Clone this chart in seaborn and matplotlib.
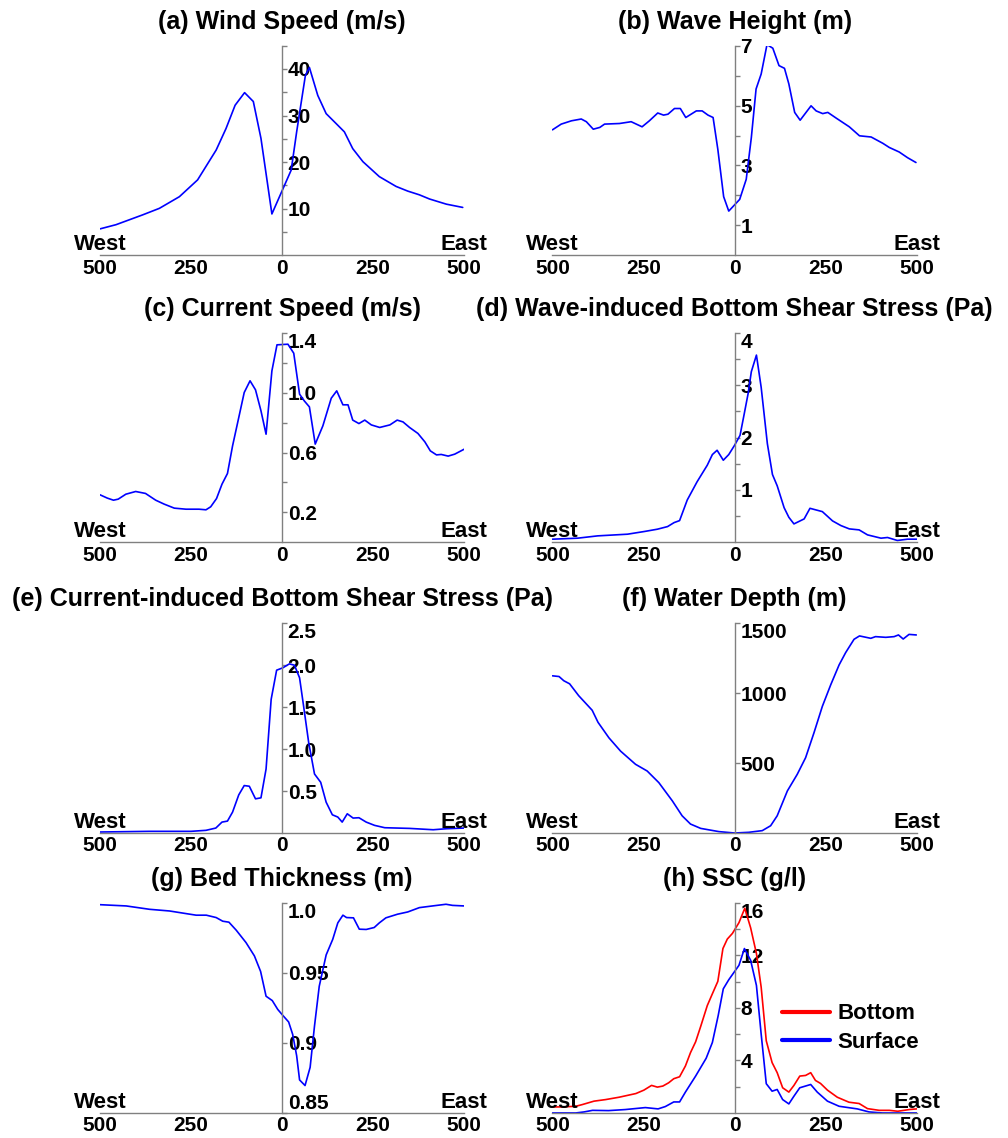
import pandas as pd
import matplotlib.pyplot as plt
import seaborn as sns

# ---- data (distance in km, West negative) ----
wind_x = [-500, -456, -383, -337, -282, -232, -181, -154, -129, -103, -79, -58, -28, 25, 40, 64, 75, 98,
          121, 148, 171, 194, 222, 267, 313, 345, 377, 405, 451, 496]
wind_y = [5.7, 6.6, 8.7, 10.1, 12.6, 16.2, 22.6, 27.2, 32.2, 34.9, 33.0, 25.1, 8.9, 18.3, 26.5, 38.6, 40.3, 34.3,
          30.4, 28.3, 26.5, 22.9, 20.1, 16.9, 14.8, 13.8, 13.0, 12.1, 11.0, 10.3]

wave_x = [-500, -476, -448, -421, -407, -388, -370, -357, -316, -284, -254, -234, -211, -195, -183, -165, -149,
          -134, -105, -89, -73, -59, -46, -30, -16, 14, 32, 46, 59, 73, 89, 105, 122, 137, 149, 165, 180, 210,
          224, 242, 256, 279, 315, 343, 375, 407, 425, 452, 475, 498]
wave_y = [4.19, 4.38, 4.49, 4.55, 4.46, 4.21, 4.27, 4.38, 4.40, 4.46, 4.29, 4.49, 4.75, 4.68, 4.71, 4.90, 4.90,
          4.60, 4.82, 4.82, 4.68, 4.60, 3.54, 1.96, 1.48, 1.87, 2.54, 3.93, 5.55, 6.05, 7.03, 6.91, 6.33, 6.24,
          5.72, 4.77, 4.51, 4.99, 4.82, 4.73, 4.77, 4.58, 4.29, 3.99, 3.95, 3.74, 3.60, 3.45, 3.26, 3.10]

curr_x = [-500, -480, -463, -450, -429, -402, -375, -347, -324, -296, -264, -228, -209, -196, -180, -165, -150,
          -136, -118, -104, -88, -73, -58, -44, -28, -14, 16, 32, 48, 61, 75, 91, 112, 135, 150, 167, 181, 194,
          211, 227, 245, 268, 296, 316, 332, 350, 373, 392, 407, 424, 437, 456, 474, 500]
curr_y = [0.318, 0.296, 0.282, 0.289, 0.322, 0.340, 0.327, 0.282, 0.256, 0.229, 0.222, 0.222, 0.218, 0.238,
          0.293, 0.389, 0.460, 0.644, 0.844, 1.000, 1.078, 1.018, 0.878, 0.722, 1.144, 1.318, 1.322, 1.262,
          0.989, 0.944, 0.904, 0.656, 0.778, 0.962, 1.011, 0.918, 0.918, 0.816, 0.793, 0.816, 0.784, 0.767,
          0.784, 0.816, 0.804, 0.767, 0.727, 0.671, 0.611, 0.584, 0.587, 0.576, 0.589, 0.622]

wbss_x = [-500, -431, -376, -294, -248, -212, -184, -166, -151, -130, -103, -75, -61, -48, -31, -16, 0, 15, 26,
          37, 46, 60, 73, 90, 104, 117, 136, 149, 163, 191, 207, 241, 269, 292, 315, 342, 365, 402, 420, 447,
          475, 500]
wbss_y = [0.063, 0.082, 0.126, 0.158, 0.209, 0.253, 0.303, 0.379, 0.417, 0.809, 1.156, 1.472, 1.675, 1.757,
          1.567, 1.675, 1.852, 2.041, 2.433, 2.831, 3.254, 3.570, 2.957, 1.883, 1.295, 1.080, 0.663, 0.480,
          0.354, 0.449, 0.651, 0.588, 0.411, 0.322, 0.259, 0.240, 0.145, 0.082, 0.095, 0.038, 0.063, 0.063]

cbss_x = [-500, -365, -250, -209, -182, -165, -150, -136, -119, -104, -90, -73, -58, -44, -30, -15, 2, 20, 34,
          48, 59, 73, 89, 106, 121, 138, 153, 165, 179, 195, 211, 231, 254, 282, 350, 415, 451, 500]
cbss_y = [0.012, 0.020, 0.020, 0.032, 0.059, 0.130, 0.142, 0.249, 0.454, 0.565, 0.557, 0.407, 0.419, 0.762,
          1.592, 1.939, 1.967, 2.014, 1.998, 1.848, 1.513, 1.078, 0.703, 0.604, 0.367, 0.217, 0.190, 0.130,
          0.229, 0.178, 0.182, 0.130, 0.091, 0.063, 0.055, 0.039, 0.051, 0.059]

depth_x = [-500, -482, -469, -453, -428, -391, -375, -345, -313, -272, -240, -208, -171, -144, -121, -93, -43,
           0, 39, 76, 99, 117, 145, 172, 195, 218, 241, 264, 287, 305, 328, 343, 374, 387, 415, 438, 450, 463,
           479, 499]
depth_y = [1123, 1118, 1088, 1066, 981, 877, 791, 680, 585, 491, 443, 360, 230, 123, 64, 33, 10, 0, 5, 17, 52,
           123, 301, 419, 538, 716, 905, 1059, 1201, 1289, 1384, 1408, 1391, 1403, 1398, 1403, 1415, 1386, 1419,
           1415]

bed_x = [-500, -428, -364, -309, -263, -236, -208, -181, -163, -146, -126, -99, -76, -59, -44, -27, -12, 2, 18,
         29, 40, 48, 63, 77, 89, 102, 121, 139, 153, 167, 177, 196, 212, 231, 253, 267, 285, 317, 345, 377, 413,
         450, 468, 500]
bed_y = [0.9988, 0.9979, 0.9955, 0.9943, 0.9924, 0.9913, 0.9913, 0.9896, 0.9870, 0.9863, 0.9806, 0.9717,
         0.9622, 0.9511, 0.9334, 0.9303, 0.9240, 0.9197, 0.9150, 0.9062, 0.8909, 0.8736, 0.8696, 0.8826,
         0.9121, 0.9405, 0.9629, 0.9740, 0.9858, 0.9913, 0.9896, 0.9894, 0.9813, 0.9811, 0.9825, 0.9858,
         0.9894, 0.9920, 0.9936, 0.9967, 0.9979, 0.9991, 0.9983, 0.9979]

ssc_bot_x = [-500, -473, -436, -418, -386, -354, -317, -271, -249, -228, -212, -197, -181, -167, -151, -135,
             -121, -107, -93, -75, -61, -46, -32, -20, -6, 12, 28, 44, 60, 73, 87, 103, 117, 132, 149, 163, 179,
             195, 209, 222, 236, 255, 282, 314, 342, 365, 397, 425, 448, 480, 500]
ssc_bot_y = [0.46, 0.46, 0.51, 0.64, 0.90, 1.02, 1.20, 1.48, 1.74, 2.10, 1.97, 2.05, 2.30, 2.61, 2.76, 3.58,
             4.60, 5.42, 6.60, 8.18, 9.08, 10.03, 12.53, 13.25, 13.68, 14.50, 15.60, 14.12, 12.15, 9.59, 5.50,
             3.84, 3.07, 1.92, 1.59, 2.10, 2.81, 2.86, 3.07, 2.48, 2.25, 1.74, 1.20, 0.82, 0.72, 0.33, 0.20,
             0.20, 0.13, 0.26, 0.31]
ssc_sur_x = [-500, -436, -413, -390, -346, -300, -245, -210, -190, -167, -151, -135, -107, -78, -61, -45, -31,
             -16, 12, 27, 44, 60, 73, 87, 103, 117, 132, 149, 163, 179, 209, 227, 255, 287, 337, 369, 406, 500]
ssc_sur_y = [0.0, 0.0, 0.08, 0.20, 0.18, 0.26, 0.41, 0.31, 0.49, 0.84, 0.84, 1.59, 2.81, 4.17, 5.37, 7.42,
             9.46, 10.15, 11.25, 12.53, 11.64, 9.72, 6.01, 2.23, 1.66, 1.79, 1.02, 0.69, 1.28, 1.92, 2.17, 1.59,
             0.90, 0.51, 0.31, 0.08, 0.0, 0.0]

sns.set_style("white")
plt.rcParams['font.family'] = ['Liberation Sans', 'DejaVu Sans']
plt.rcParams['font.weight'] = 'bold'
plt.rcParams['text.color'] = 'black'
plt.rcParams['xtick.labelcolor'] = 'black'
plt.rcParams['ytick.labelcolor'] = 'black'

BLUE = '#0000ff'
RED = '#ff0000'
GREY = '#808080'
TICK_FS = 15
SIDE_FS = 16

fig = plt.figure(figsize=(10.08, 11.38), dpi=100)
lefts = [0.0992, 0.5481]
bottoms = [0.7755, 0.5233, 0.2680, 0.0220]
W, H = 0.3613, 0.1845


def make_ax(row, col):
    return fig.add_axes([lefts[col], bottoms[row], W, H])


def style(ax, title, ylim, yticks, ylabels, top_va=None, bottom_va=None):
    ax.set_xlim(-500, 500)
    ax.set_ylim(*ylim)
    ax.set_xlabel('')
    ax.set_ylabel('')
    ax.spines['left'].set_visible(False)
    ax.spines['top'].set_visible(False)
    ax.spines['right'].set_position(('data', 0))
    for s in ['right', 'bottom']:
        ax.spines[s].set_color(GREY)
        ax.spines[s].set_linewidth(1.0)
    ax.yaxis.tick_right()
    ax.set_yticks(yticks, ylabels)
    ax.tick_params(axis='y', direction='out', length=3.5, width=1, color=GREY, pad=0.5,
                   labelsize=TICK_FS, labelcolor='black')
    ax.set_xticks([-500, -250, 0, 250, 500], ['500', '250', '0', '250', '500'])
    ax.tick_params(axis='x', length=0, pad=2.5, labelsize=TICK_FS, labelcolor='black')
    labels = ax.get_yticklabels()
    if top_va:
        labels[-1].set_va(top_va)
    if bottom_va:
        labels[0].set_va(bottom_va)
    ax.set_title(title, fontsize=18, fontweight='bold', pad=12, color='black')
    tr = ax.get_xaxis_transform()
    ax.text(-500, 0.025, 'West', transform=tr, ha='center', va='baseline', fontsize=SIDE_FS,
            fontweight='bold', color='black')
    ax.text(500, 0.025, 'East', transform=tr, ha='center', va='baseline', fontsize=SIDE_FS,
            fontweight='bold', color='black')


def lbl(ticks, shown):
    return [(f'{t:g}' if t in shown else '') for t in ticks]


# (a)
ax = make_ax(0, 0)
sns.lineplot(x=wind_x, y=wind_y, ax=ax, color=BLUE, lw=1.2)
t = [5, 10, 15, 20, 25, 30, 35, 40, 45]
style(ax, '(a) Wind Speed (m/s)', (0, 45), t, lbl(t, [10, 20, 30, 40]))

# (b)
ax = make_ax(0, 1)
sns.lineplot(x=wave_x, y=wave_y, ax=ax, color=BLUE, lw=1.2)
t = [1, 2, 3, 4, 5, 6, 7]
style(ax, '(b) Wave Height (m)', (0, 7), t, lbl(t, [1, 3, 5, 7]))

# (c)
ax = make_ax(1, 0)
sns.lineplot(x=curr_x, y=curr_y, ax=ax, color=BLUE, lw=1.2)
t = [0.2, 0.4, 0.6, 0.8, 1.0, 1.2, 1.4]
style(ax, '(c) Current Speed (m/s)', (0, 1.4), t, ['0.2', '', '0.6', '', '1.0', '', '1.4'], top_va='top')

# (d)
ax = make_ax(1, 1)
sns.lineplot(x=wbss_x, y=wbss_y, ax=ax, color=BLUE, lw=1.2)
t = [0.5, 1, 1.5, 2, 2.5, 3, 3.5, 4]
style(ax, '(d) Wave-induced Bottom Shear Stress (Pa)', (0, 4), t, lbl(t, [1, 2, 3, 4]), top_va='top')

# (e)
ax = make_ax(2, 0)
sns.lineplot(x=cbss_x, y=cbss_y, ax=ax, color=BLUE, lw=1.2)
t = [0.5, 1.0, 1.5, 2.0, 2.5]
style(ax, '(e) Current-induced Bottom Shear Stress (Pa)', (0, 2.5), t,
      ['0.5', '1.0', '1.5', '2.0', '2.5'], top_va='top')

# (f)
ax = make_ax(2, 1)
sns.lineplot(x=depth_x, y=depth_y, ax=ax, color=BLUE, lw=1.2)
t = [500, 1000, 1500]
style(ax, '(f) Water Depth (m)', (0, 1500), t, ['500', '1000', '1500'], top_va='top')

# (g)
ax = make_ax(3, 0)
sns.lineplot(x=bed_x, y=bed_y, ax=ax, color=BLUE, lw=1.2)
t = [0.85, 0.9, 0.95, 1.0]
style(ax, '(g) Bed Thickness (m)', (0.85, 1.0), t, ['0.85', '0.9', '0.95', '1.0'],
      top_va='top', bottom_va='bottom')

# (h)
ax = make_ax(3, 1)
sns.lineplot(x=ssc_bot_x, y=ssc_bot_y, ax=ax, color=RED, lw=1.2, label='Bottom')
sns.lineplot(x=ssc_sur_x, y=ssc_sur_y, ax=ax, color=BLUE, lw=1.2, label='Surface')
t = [2, 4, 6, 8, 10, 12, 14, 16]
style(ax, '(h) SSC (g/l)', (0, 16), t, lbl(t, [4, 8, 12, 16]), top_va='top')
leg = ax.legend(loc='upper left', bbox_to_anchor=(0.629, 0.522), frameon=False, fontsize=16,
                handlelength=2.2, handletextpad=0.3, labelspacing=0.35, borderpad=0, borderaxespad=0)
for txt in leg.get_texts():
    txt.set_color('black')
for ln in leg.get_lines():
    ln.set_linewidth(3)

plt.savefig("out.png", dpi=100)
